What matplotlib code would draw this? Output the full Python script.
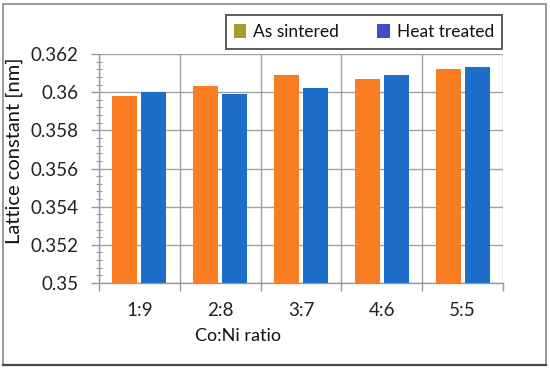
import matplotlib
matplotlib.use("Agg")
import matplotlib.pyplot as plt
import numpy as np
from matplotlib.patches import Rectangle, Patch
from matplotlib.lines import Line2D
from matplotlib.ticker import MultipleLocator, FixedLocator, FixedFormatter

plt.rcParams['font.family'] = ['Lato', 'DejaVu Sans']

categories = ["1:9", "2:8", "3:7", "4:6", "5:5"]
as_sintered = [0.3598, 0.3603, 0.3609, 0.3607, 0.3612]
heat_treated = [0.3600, 0.3599, 0.3602, 0.3609, 0.3613]
series_names = ["As sintered", "Heat treated"]

W, H = 550, 369
fig = plt.figure(figsize=(5.5, 3.69), dpi=100)
ax = fig.add_axes([99 / W, 1 - 283 / H, (503 - 99) / W, (283 - 54) / H])

x = np.arange(len(categories))
bw = 0.31
ax.bar(x - 0.18, as_sintered, width=bw, color="#FA7D23", zorder=3)
ax.bar(x + 0.18, heat_treated, width=bw, color="#1C6EC8", zorder=3)

ax.set_xlim(-0.5, len(categories) - 0.5)
ax.set_ylim(0.35, 0.362)

# y axis
ax.yaxis.set_minor_locator(MultipleLocator(0.0004))
ax.set_yticks([0.35, 0.352, 0.354, 0.356, 0.358, 0.36, 0.362])
ax.set_yticklabels(["0.35", "0.352", "0.354", "0.356", "0.358", "0.36", "0.362"])
ax.tick_params(axis="y", which="major", direction="out", length=6, width=1,
               color="#9a9a9a", labelsize=13.5, labelcolor="#222222", pad=9)
ax.tick_params(axis="y", which="minor", direction="inout", length=5, width=0.8,
               color="#9a9a9a")

# x axis: labels at centres, tick marks at category boundaries
ax.xaxis.set_major_locator(FixedLocator(x))
ax.xaxis.set_major_formatter(FixedFormatter(categories))
ax.xaxis.set_minor_locator(FixedLocator(np.arange(-0.5, len(categories), 1.0)))
ax.tick_params(axis="x", which="major", length=0, labelsize=13.5,
               labelcolor="#222222", pad=14)
ax.tick_params(axis="x", which="minor", direction="out", length=6, width=1,
               color="#9a9a9a")

# grid
ax.grid(axis="y", which="major", color="#a0a0a0", linewidth=1, zorder=0)
ax.grid(axis="x", which="minor", color="#a0a0a0", linewidth=1, zorder=0)
ax.set_axisbelow(True)
for s in ["top", "right"]:
    ax.spines[s].set_visible(False)
for s in ["left", "bottom"]:
    ax.spines[s].set_color("#9a9a9a")
    ax.spines[s].set_linewidth(1)

# axis titles
fig.text(14 / W, 1 - 151 / H, "Lattice constant [nm]", rotation=90,
         ha="center", va="center", fontsize=14.5, color="#111111")
fig.text(238 / W, 1 - 336 / H, "Co:Ni ratio", ha="center", va="center",
         fontsize=13, color="#111111")

# legend
handles = [Patch(facecolor="#A89B2B", edgecolor="none"),
           Patch(facecolor="#3A50C4", edgecolor="none")]
leg = fig.legend(handles, series_names, loc="center",
                 bbox_to_anchor=(364 / W, 1 - 32 / H), ncol=2,
                 fontsize=12.5, frameon=True, fancybox=False,
                 handlelength=0.7, handleheight=0.8, handletextpad=0.4,
                 columnspacing=2.2, borderpad=0.5, borderaxespad=0)
leg.get_frame().set_edgecolor("#333333")
leg.get_frame().set_linewidth(1.4)
for t in leg.get_texts():
    t.set_color("#111111")

# outer border
fig.patches.append(Rectangle((3 / W, 4 / H), 543 / W, 361 / H, transform=fig.transFigure,
                             fill=False, edgecolor="#8a8a8a", linewidth=1.2))
fig.lines.append(Line2D([3 / W, 546 / W], [4 / H, 4 / H], transform=fig.transFigure,
                        color="#444444", linewidth=1.6))

fig.savefig("out.png", dpi=100)
